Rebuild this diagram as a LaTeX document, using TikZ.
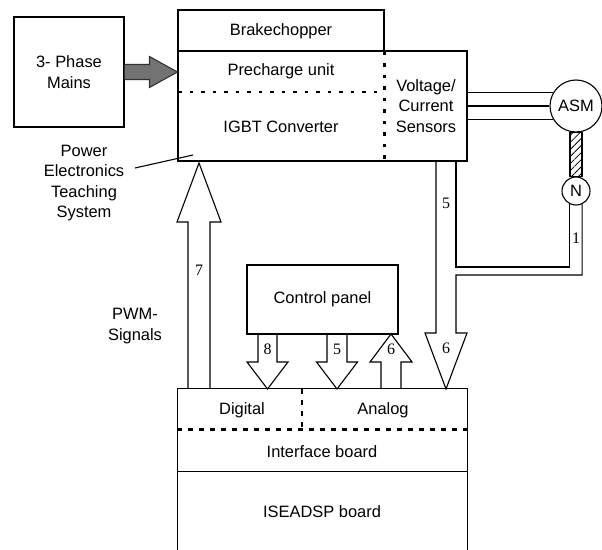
\documentclass[tikz,border=0pt]{standalone}
\usepackage{fontspec}
\setmainfont{Liberation Sans}
\newfontfamily\numfont{Liberation Serif}
\usetikzlibrary{calc,patterns.meta}
\newcommand\blockarrow[6][]{%
  \coordinate (ba-h) at ($(#3)!#6!(#2)$);
  \draw[#1] ($(#2)!#4!90:(#3)$) -- ($(ba-h)!#4!-90:(#2)$) -- ($(ba-h)!#5!-90:(#2)$) -- (#3)
     -- ($(ba-h)!#5!90:(#2)$) -- ($(ba-h)!#4!90:(#2)$) -- ($(#2)!#4!-90:(#3)$);
}
\begin{document}
\begin{tikzpicture}[x=1bp,y=-1bp,line width=1.1bp,
  box/.style={draw,rectangle,inner sep=0pt},
  lbl/.style={font=\fontsize{16.5}{20.5}\selectfont,align=center,inner sep=0pt},
  num/.style={font=\numfont\fontsize{16}{20}\selectfont,inner sep=0pt},
  dotln/.style={line width=2.8bp,dash pattern=on 3.5bp off 8bp},
  dashln/.style={line width=2.2bp,dash pattern=on 5bp off 6bp},
  circ/.style={draw,circle,inner sep=0pt}]
\useasboundingbox (0,0) rectangle (602,550);
% boxes
\node[box,minimum width=110bp,minimum height=110bp,lbl] (mains) at (69,72) {3- Phase\\Mains};
\node[box,minimum width=206bp,minimum height=41bp] (brake) at (281,30.5) {};
\node[box,minimum width=289bp,minimum height=110bp] (main) at (322.5,106) {};
\node[lbl] (brt) at (281,31) {Brakechopper};
\node[lbl] (pre) at (281,71) {Precharge unit};
\node[lbl] (igbt) at (281,127) {IGBT Converter};
\node[lbl] (sens) at (426,106) {Voltage/\\Current\\Sensors};
\draw[dotln] (178,92) -- (384,92);
\draw[dotln] (brake.south east) -- (brake.south east |- main.south);
\node[circ,minimum size=52bp,lbl] (asm) at (576,106) {ASM};
\node[circ,minimum size=28bp,lbl] (nN) at (576,191) {N};
\draw[pattern={Lines[angle=45,distance=5bp,line width=0.8bp]}] ($(asm.south)+(-6,0)$) rectangle ($(nN.north)+(6,0)$);
\draw (asm.150) -- (asm.150 -| main.east);
\draw (asm.180) -- (asm.180 -| main.east);
\draw (asm.210) -- (asm.210 -| main.east);
% pointer text
\node[lbl] (pets) at (84,183) {Power\\Electronics\\Teaching\\System};
\coordinate (ptrs) at (135,168);
\coordinate (ptre) at (193,155);
\draw (ptrs) -- (ptre);
\node[lbl] (pwm) at (135,326) {PWM-\\Signals};
% control panel
\node[box,minimum width=151bp,minimum height=69bp,lbl] (ctrl) at (322.5,299.5) {Control panel};
% interface / dsp
\node[minimum width=289bp,minimum height=40bp,inner sep=0pt] (io) at (322.5,409) {};
\draw (io.south west) |- (io.north east) -- (io.south east);
\draw[dashln] (io.south west) -- (io.south east);
\draw[dashln] (302,389) -- (302,429);
\node[lbl] (dig) at (242,410) {Digital};
\node[lbl] (ana) at (383,410) {Analog};
\node[minimum width=289bp,minimum height=42bp,inner sep=0pt] (ifb) at (322.5,450) {};
\draw (ifb.north west) |- (ifb.south east) -- (ifb.north east);
\node[lbl] (ifbt) at (322,452) {Interface board};
\node[lbl] (dsp) at (322,512) {ISEADSP board};
\draw (ifb.south west) -- ++(0,90);
\draw (ifb.south east) -- ++(0,90);
% gray arrow
\coordinate (gA) at (mains.east);
\coordinate (gB) at (main.west |- mains.east);
\blockarrow[fill=gray!90!black,draw=black!80]{gA}{gB}{7.5bp}{15.5bp}{28bp}
% arrow 7
\coordinate (a7s) at (199,389);
\coordinate (a7t) at (199,163);
\blockarrow{a7s}{a7t}{11bp}{22bp}{59bp}
\node[num] (n7) at (199,270) {7};
% arrow 8
\coordinate (a8s) at (267.5,334);
\coordinate (a8t) at (267.5,389);
\blockarrow{a8s}{a8t}{9.5bp}{20.5bp}{27bp}
\node[num] (n8) at (267.5,349) {8};
% arrow 5
\coordinate (a5s) at (337,334);
\coordinate (a5t) at (337,389);
\blockarrow{a5s}{a5t}{10bp}{20.5bp}{27bp}
\node[num] (n5) at (337,349) {5};
% arrow 6 up
\coordinate (a6s) at (391,389);
\coordinate (a6t) at (391,334);
\blockarrow{a6s}{a6t}{10bp}{21bp}{28bp}
\node[num] (n6) at (391,349) {6};
% sensor pipe 5 + speed 1 -> 6
\coordinate (p5a) at (436,161);
\coordinate (p5b) at (456,161);
\draw (p5a) -- (436,333) -- (425,333) -- (446,389) -- (467,333) -- (456,333) -- (456,275) -| (nN.295);
\draw (p5b) -- (456,267) -| (nN.245);
\node[num] (n5b) at (446,203) {5};
\node[num] (n1) at (576,238) {1};
\node[num] (n6b) at (446,348) {6};
\end{tikzpicture}
\end{document}
